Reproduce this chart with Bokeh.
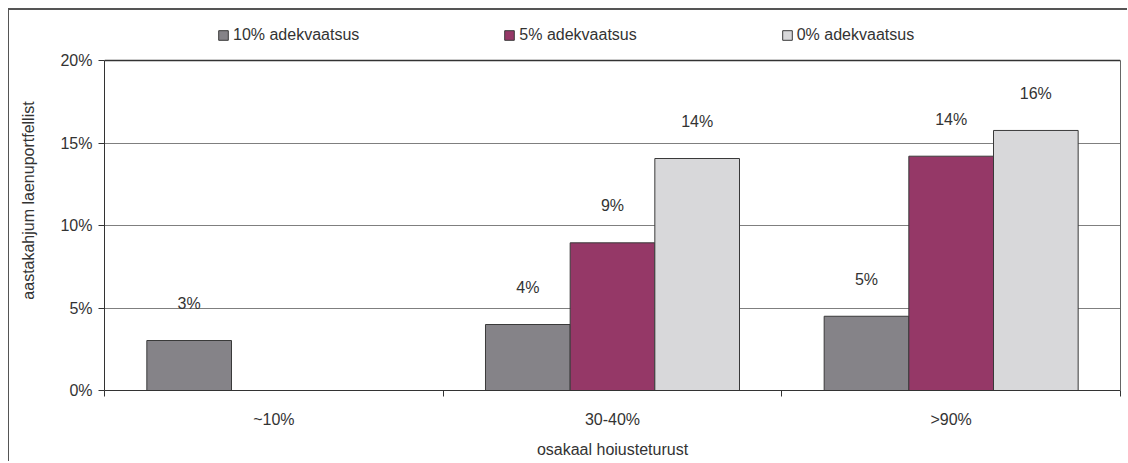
import math
from bokeh.plotting import figure
from bokeh.models import (ColumnDataSource, Range1d, FixedTicker, PrintfTickFormatter,
                          Legend, LegendItem, LinearAxis, Span)
from bokeh.transform import dodge
from bokeh.core.properties import value
from bokeh.embed import file_html
from bokeh.resources import INLINE

categories = ["~10%", "30-40%", ">90%"]
series_names = ["10% adekvaatsus", "5% adekvaatsus", "0% adekvaatsus"]
s10 = [3.03, 4.0, 4.5]
s5 = [None, 8.95, 14.2]
s0 = [None, 14.06, 15.76]
series_values = [s10, s5, s0]
colors = ["#858388", "#953867", "#d8d8da"]
y_ticks = [0, 5, 10, 15, 20]
y_max = 20

FONT = "Liberation Sans"
TXT = "#333333"

H = 453
BOTTOM = 73
TOP = 0
frame_h = H - BOTTOM - TOP
y_top = y_max * frame_h / 330.0   # extra room above the plot area for the legend

p = figure(width=1119, height=H, output_backend="svg", toolbar_location=None,
           x_range=Range1d(0, len(categories)), y_range=Range1d(0, y_top),
           min_border_left=95, min_border_right=8, min_border_top=TOP, min_border_bottom=BOTTOM,
           background_fill_color="white", border_fill_color="white")
p.styles = {"border-top": "2px solid #555555", "border-left": "1px solid #555555",
            "margin-top": "8px", "margin-left": "8px"}

offsets = [-0.25, 0.0, 0.25]
renderers = []
for name, vals, col, off in zip(series_names, series_values, colors, offsets):
    xs = [i + 0.5 for i, v in enumerate(vals) if v is not None]
    ys = [v for v in vals if v is not None]
    labels = [f"{math.floor(v + 0.5)}%" for v in ys]
    src = ColumnDataSource(dict(x=xs, y=ys, lab=labels))
    r = p.vbar(x=dodge("x", off, range=p.x_range), top="y", width=0.25, source=src,
               fill_color=col, line_color="#3a3a3a", line_width=1)
    p.text(x=dodge("x", off, range=p.x_range), y="y", text="lab", source=src,
           text_align="center", text_baseline="middle", y_offset=-37,
           text_font=value(FONT), text_font_size="16px", text_color=TXT)
    renderers.append((name, r))

legend = Legend(items=[LegendItem(label=n, renderers=[r]) for n, r in renderers],
                orientation="horizontal", location=(113, 346),
                glyph_width=12, glyph_height=12, label_standoff=4, spacing=144,
                padding=0, margin=0, border_line_color=None, background_fill_alpha=0,
                label_text_font=FONT, label_text_font_size="16px", label_text_color=TXT,
                label_height=12)
p.add_layout(legend, "center")

# axes
p.yaxis.ticker = FixedTicker(ticks=y_ticks)
p.yaxis.formatter = PrintfTickFormatter(format="%d%%")
p.yaxis.axis_label = "aastakahjum laenuportfellist"
p.yaxis.bounds = (0, y_max)
p.xaxis.ticker = FixedTicker(ticks=[i + 0.5 for i in range(len(categories))],
                             minor_ticks=list(range(len(categories) + 1)))
p.xaxis.major_label_overrides = {i + 0.5: c for i, c in enumerate(categories)}
p.xaxis.axis_label = "osakaal hoiusteturust"

for ax in (p.xaxis[0], p.yaxis[0]):
    ax.axis_line_color = "#333333"
    ax.axis_line_width = 1
    ax.major_tick_line_color = "#333333"
    ax.minor_tick_line_color = "#333333"
    ax.major_label_text_font = FONT
    ax.major_label_text_font_size = "16px"
    ax.major_label_text_color = TXT
    ax.axis_label_text_font = FONT
    ax.axis_label_text_font_size = "16px"
    ax.axis_label_text_font_style = "normal"
    ax.axis_label_text_color = TXT

p.yaxis.major_tick_out = 6
p.yaxis.major_tick_in = 0
p.yaxis.minor_tick_out = 0
p.yaxis.minor_tick_in = 0
p.yaxis.major_label_standoff = 6
p.yaxis.axis_label_standoff = 20

p.xaxis.major_tick_out = 0
p.xaxis.major_tick_in = 0
p.xaxis.minor_tick_out = 6
p.xaxis.minor_tick_in = 0
p.xaxis.major_label_standoff = 14
p.xaxis.axis_label_standoff = 10

# right border of the plot area
rax = LinearAxis(bounds=(0, y_max), ticker=FixedTicker(ticks=[]), axis_line_color="#666666",
                 major_tick_out=0, major_tick_in=0, minor_tick_out=0, minor_tick_in=0,
                 major_label_text_alpha=0)
p.add_layout(rax, "right")

p.xgrid.grid_line_color = None
p.ygrid.grid_line_color = "#7f7f7f"
p.ygrid.grid_line_width = 1
p.add_layout(Span(location=y_max, dimension="width", line_color="#333333", line_width=1.5))
p.outline_line_color = None

open("out.html", "w").write(file_html(p, INLINE))
